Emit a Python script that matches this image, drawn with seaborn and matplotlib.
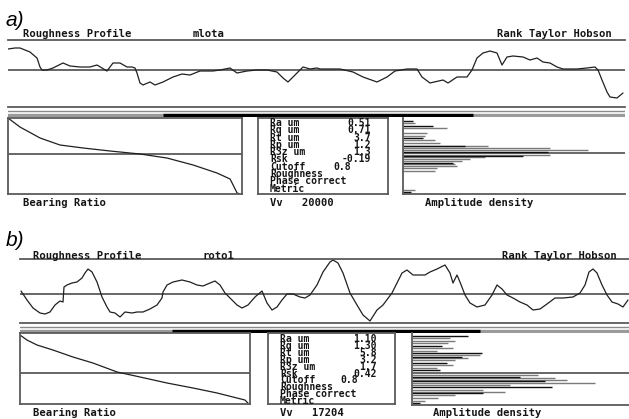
import matplotlib
matplotlib.use("Agg")
import matplotlib.pyplot as plt
import pandas as pd
import seaborn as sns

# ---------------- data ----------------
# a) sample "mlota"
prof_a_pos = [0, 7, 12, 22, 29, 32, 34, 39, 45, 55, 62, 72, 82, 89, 94, 99, 105, 112, 119, 124,
              127, 129, 132, 135, 142, 147, 155, 165, 174, 182, 192, 205, 212, 222, 229, 239, 249, 259, 269, 275,
              280, 285, 290, 295, 302, 309, 312, 332, 345, 355, 369, 379, 387, 399, 409, 414, 422, 435, 440, 449,
              459, 464, 469, 475, 482, 489, 494, 499, 505, 515, 522, 529, 535, 542, 549, 555, 569, 579, 587, 590,
              594, 599, 602, 609, 615]
prof_a_z = [21, 22, 22, 18, 12, 3, 0, 0, 2, 7, 4, 3, 3, 5, 2, -1, 7, 7, 3, 3,
            2, -3, -13, -15, -12, -15, -12, -7, -4, -5, -1, -1, 0, 2, -3, -1, 0, 0, -2, -8,
            -12, -7, -2, 3, 1, 2, 1, 1, -2, -7, -12, -7, -1, 1, 1, -7, -13, -10, -13, -7,
            -7, 0, 12, 17, 19, 17, 5, 13, 14, 13, 10, 12, 8, 7, 3, 1, 1, 2, 3, 0,
            -10, -22, -27, -28, -23]
bear_a_pct = [0, 5.1, 13.7, 22.2, 32.1, 43.6, 56.4, 67.9, 79.1, 89.3, 94.9, 96.2, 97.9, 99.1]
bear_a_z = [36, 27, 16, 9, 6, 3, 0, -4, -11, -19, -25, -31, -39, -40]
dens_a_grey_z = [30, 25, 20, 17, 13, 10, 7, 5, 3, -2, -4, -6, -8, -11, -13, -15, -18, -37]
dens_a_grey_len = [12, 44, 24, 22, 32, 37, 85, 147, 185, 147, 82, 67, 59, 52, 54, 34, 32, 12]
dens_a_black_z = [32, 27, 15, 7, 1, -3, -10, -39]
dens_a_black_len = [10, 30, 20, 62, 145, 120, 50, 8]
param_names = ["Ra um", "Rq um", "Rt um", "Rp um", "R3z um", "Rsk"]
param_a_vals = ["0.51", "0.71", "3.7", "1.2", "1.3", "-0.19"]
window_a = [155, 465]
vv_a = "20000"

# b) sample "roto1"
prof_b_pos = [1, 7, 13, 20, 25, 30, 35, 40, 43, 44, 47, 52, 57, 62, 65, 68, 72, 77, 82, 87,
              90, 95, 100, 105, 112, 117, 123, 130, 137, 142, 143, 147, 153, 162, 170, 177, 183, 190, 195, 200,
              205, 210, 217, 222, 228, 235, 242, 247, 252, 257, 262, 267, 273, 280, 285, 290, 297, 303, 310, 313,
              318, 323, 330, 337, 343, 350, 357, 363, 372, 377, 382, 387, 393, 400, 405, 410, 417, 425, 430, 433,
              437, 440, 445, 450, 457, 465, 472, 477, 482, 487, 493, 500, 507, 513, 520, 527, 535, 543, 553, 560,
              565, 569, 573, 577, 582, 587, 592, 598, 603, 608]
prof_b_z = [3, -6, -14, -19, -20, -18, -11, -7, -8, 7, 9, 11, 12, 16, 21, 25, 22, 12, -3, -13,
            -18, -19, -23, -18, -19, -18, -18, -15, -11, -4, 2, 9, 12, 14, 12, 9, 8, 11, 13, 9,
            1, -4, -11, -14, -11, -3, 3, -9, -16, -13, -6, 0, 0, -3, -4, -1, 9, 22, 32, 34,
            31, 21, 1, -11, -21, -27, -16, -11, 1, 11, 21, 24, 19, 19, 19, 22, 25, 29, 21, 11,
            19, 12, -1, -9, -13, -11, -1, 9, 5, -1, -4, -8, -11, -16, -15, -10, -4, -4, -3, 1,
            9, 22, 25, 21, 9, -1, -8, -10, -13, -6]
bear_b_pct = [0, 3.0, 7.4, 14.3, 23.0, 31.7, 42.2, 52.2, 63.9, 75.2, 85.7, 94.3, 97.8, 99.1]
bear_b_z = [38, 33, 28, 23, 16, 10, 1, -4, -10, -15, -20, -25, -27, -30]
dens_b_grey_z = [35, 32, 30, 25, 22, 18, 15, 13, 8, 5, -2, -5, -7, -10, -12, -17, -19, -22, -25, -28]
dens_b_grey_len = [38, 43, 36, 41, 25, 68, 56, 43, 41, 25, 126, 143, 155, 183, 98, 71, 93, 43, 26, 13]
dens_b_black_z = [37, 27, 20, 16, 10, 3, -4, -8, -14, -20, -30]
dens_b_black_len = [56, 30, 70, 50, 35, 28, 108, 133, 140, 71, 8]
param_b_vals = ["1.10", "1.30", "5.8", "3.2", "1.7", "0.42"]
window_b = [152, 460]
vv_b = "17204"

option_lines = ["Roughness", "Phase correct", "Metric"]
cutoff = "0.8"

# ---------------- figure ----------------
W, H = 629, 419
sns.set_theme(style="white")
plt.rcParams["font.family"] = ["DejaVu Sans Mono", "DejaVu Sans"]
fig = plt.figure(figsize=(W / 100, H / 100), dpi=100)
fig.patch.set_facecolor("white")

FRAME = "#5a5a5a"
TRACE = "#202020"
INK = "#151515"
TABLE_PT = 7.0


def box(x0, y0, x1, y1):
    ax = fig.add_axes([x0 / W, 1 - y1 / H, (x1 - x0) / W, (y1 - y0) / H])
    ax.set_facecolor("none")
    ax.set_xticks([])
    ax.set_yticks([])
    for s in ax.spines.values():
        s.set_color(FRAME)
        s.set_linewidth(1.3)
    return ax


def ptext(x, y, s, size=7.6, ha="left", va="center", **kw):
    fig.text(x / W, 1 - y / H, s, fontsize=size, ha=ha, va=va,
             family="DejaVu Sans Mono", weight="bold", color=INK, **kw)


def panel(L, tag, name, pos, z, bpct, bz, gz, glen, kz, klen, vals, window, vv):
    fig.text(L["tag"][0] / W, 1 - L["tag"][1] / H, tag, fontsize=15, style="italic",
             family=["Liberation Sans", "DejaVu Sans"], ha="left", va="center", color="black")
    hy = L["head_y"]
    ptext(L["head_x"], hy, "Roughness Profile")
    ptext(L["name_x"], hy, name)
    ptext(L["rth_x"], hy, "Rank Taylor Hobson", ha="right")

    # roughness profile
    x0, x1 = L["prof_x"]
    top, mid, bot = L["prof_y"]
    ax = box(x0, top, x1, bot)
    ax.spines["left"].set_visible(False)
    ax.spines["right"].set_visible(False)
    ax.axhline(0, color=FRAME, lw=1.3)
    df = pd.DataFrame({"pos": pos, "z": z})
    sns.lineplot(data=df, x="pos", y="z", ax=ax, color=TRACE, lw=0.9, estimator=None)
    ax.set_xlim(0, x1 - x0)
    ax.set_ylim(mid - bot, mid - top)
    ax.set_xlabel("")
    ax.set_ylabel("")

    # evaluation-length bar
    by0, by1 = L["band_y"]
    bx = box(x0, by0, x1, by1)
    for s in bx.spines.values():
        s.set_visible(False)
    bx.set_xlim(0, x1 - x0)
    bx.set_ylim(0, 1)
    bx.axhline(0.85, color="#8a8a8a", lw=1.0)
    bx.axhline(0.3, color="#9a9a9a", lw=2.4)
    bx.hlines(0.3, window[0], window[1], color="black", lw=2.4)

    # bearing ratio
    x0, x1 = L["bear_x"]
    top, mid, bot = L["bear_y"]
    ax = box(x0, top, x1, bot)
    ax.axhline(0, color=FRAME, lw=1.3)
    dfb = pd.DataFrame({"pct": bpct, "z": bz})
    sns.lineplot(data=dfb, x="pct", y="z", ax=ax, color=TRACE, lw=0.9, estimator=None)
    ax.set_xlim(0, 100)
    ax.set_ylim(mid - bot, mid - top)
    ax.set_xlabel("")
    ax.set_ylabel("")

    # parameter table, one text per row entry
    x0, x1 = L["stat_x"]
    top, bot = L["stat_y"]
    box(x0, top, x1, bot)
    tx, vx, cx, ty, dy = L["stat_text"]
    for i, (n, v) in enumerate(zip(param_names, vals)):
        ptext(tx, ty + i * dy, n, size=TABLE_PT)
        ptext(vx, ty + i * dy, v, size=TABLE_PT, ha="right")
    k = len(param_names)
    ptext(tx, ty + k * dy, "Cutoff", size=TABLE_PT)
    ptext(cx, ty + k * dy, cutoff, size=TABLE_PT)
    for j, s in enumerate(option_lines):
        ptext(tx, ty + (k + 1 + j) * dy, s, size=TABLE_PT)

    # amplitude density
    x0, x1 = L["dens_x"]
    top, mid, bot = L["dens_y"]
    ax = box(x0, top, x1, bot)
    ax.spines["top"].set_visible(False)
    ax.spines["right"].set_visible(False)
    ax.axhline(0, color=FRAME, lw=1.3)
    ax.hlines(gz, 0, glen, color="#7a7a7a", lw=1.0)
    ax.hlines(kz, 0, klen, color="#111111", lw=1.0)
    ax.set_xlim(0, x1 - x0)
    ax.set_ylim(mid - bot, mid - top)

    fy = L["foot_y"]
    ptext(L["foot_x"][0], fy, "Bearing Ratio")
    ptext(L["foot_x"][1], fy, "Vv   " + vv)
    ptext(L["foot_x"][2], fy, "Amplitude density")


layout_a = dict(tag=(6, 21), head_y=34, head_x=23, name_x=193, rth_x=612,
                prof_x=(8, 625), prof_y=(40, 70, 107), band_y=(110, 117),
                bear_x=(8, 242), bear_y=(118, 154, 194),
                stat_x=(258, 388), stat_y=(118, 194), stat_text=(270, 371, 333, 123, 7.3),
                dens_x=(403, 625), dens_y=(118, 153, 194),
                foot_y=203, foot_x=(23, 270, 425))
layout_b = dict(tag=(6, 241), head_y=256, head_x=33, name_x=203, rth_x=617,
                prof_x=(20, 629), prof_y=(259, 294, 323), band_y=(326, 333),
                bear_x=(20, 250), bear_y=(333, 373, 404),
                stat_x=(268, 395), stat_y=(333, 404), stat_text=(280, 377, 340, 339, 6.9),
                dens_x=(412, 629), dens_y=(333, 373, 405),
                foot_y=413, foot_x=(33, 280, 433))

panel(layout_a, "a)", "mlota", prof_a_pos, prof_a_z, bear_a_pct, bear_a_z,
      dens_a_grey_z, dens_a_grey_len, dens_a_black_z, dens_a_black_len, param_a_vals, window_a, vv_a)
panel(layout_b, "b)", "roto1", prof_b_pos, prof_b_z, bear_b_pct, bear_b_z,
      dens_b_grey_z, dens_b_grey_len, dens_b_black_z, dens_b_black_len, param_b_vals, window_b, vv_b)

fig.savefig("out.png", dpi=100, facecolor="white")
